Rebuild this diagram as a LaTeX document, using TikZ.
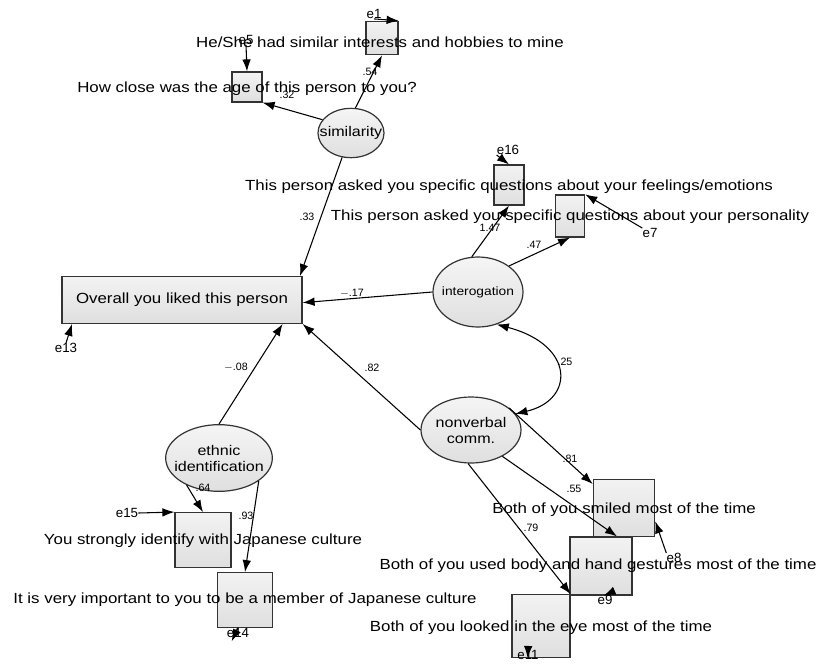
\documentclass[tikz,border=0pt]{standalone}
\usepackage{fontspec}
\setmainfont{Liberation Sans}
\newfontfamily\itemfont[FakeStretch=1.15]{Liberation Sans}
\usetikzlibrary{arrows.meta,shapes.geometric}
\begin{document}
\begin{tikzpicture}[x=0.75pt,y=-0.75pt,
  every node/.style={font=\fontsize{10pt}{11pt}\selectfont},
  obs/.style={draw=black!80,line width=0.9pt,top color=gray!10,bottom color=gray!25,inner sep=0pt},
  lat/.style={ellipse,draw=black!80,line width=0.9pt,top color=gray!8,bottom color=gray!25,inner xsep=-8pt,inner ysep=-4pt,align=center,font=\itemfont\fontsize{10.5pt}{12pt}\selectfont},
  path/.style={line width=0.8pt,-{Latex[length=9pt,width=6.5pt]}},
  cov/.style={line width=0.8pt,{Latex[length=9pt,width=6.5pt]}-{Latex[length=9pt,width=6.5pt]}},
  coef/.style={font=\fontsize{8pt}{9pt}\selectfont,inner sep=0pt},
  err/.style={font=\fontsize{10pt}{11pt}\selectfont,inner sep=0pt},
  txt/.style={inner sep=0pt,font=\itemfont\fontsize{11pt}{12pt}\selectfont}]
\useasboundingbox (0,0) rectangle (817,664);
\fill[white] (0,0) rectangle (817,664);
% observed boxes
\node[obs,minimum width=22.5pt,minimum height=22.5pt] (age) at (247,87) {};
\node[obs,minimum width=24pt,minimum height=25pt] (int) at (382,38) {};
\node[obs,minimum width=180pt,minimum height=35pt,font=\itemfont\fontsize{11pt}{12pt}\selectfont] (over) at (182,300) {Overall you liked this person};
\node[obs,minimum width=22.5pt,minimum height=30pt] (feel) at (509,185) {};
\node[obs,minimum width=22pt,minimum height=31.5pt] (pers) at (570,216) {};
\node[obs,minimum width=42pt,minimum height=41pt] (ident) at (203,540) {};
\node[obs,minimum width=41pt,minimum height=41pt] (memb) at (245,600) {};
\node[obs,minimum width=46pt,minimum height=43pt] (smile) at (624,508) {};
\node[obs,minimum width=46.5pt,minimum height=43.5pt] (gest) at (601,566) {};
\node[obs,minimum width=43.5pt,minimum height=47pt] (eye) at (541,626) {};
% latent
\node[lat,minimum width=49.5pt,minimum height=37pt] (sim) at (351,133) {similarity};
\node[lat,minimum width=67.5pt,minimum height=52.5pt,font=\itemfont\fontsize{9pt}{11pt}\selectfont] (inter) at (478,292) {interogation};
\node[lat,minimum width=75pt,minimum height=49.5pt] (nonv) at (471,430) {nonverbal\\comm.};
\node[lat,minimum width=80pt,minimum height=50pt] (eth) at (219,458) {ethnic\\identification};
% error labels
\node[err] (e5) at (246,40) {e5};
\node[err] (e1) at (374,14) {e1};
\node[err] (e13) at (66,348) {e13};
\node[err] (e16) at (508,150) {e16};
\node[err] (e7) at (650,233) {e7};
\node[err] (e15) at (127,513) {e15};
\node[err] (e14) at (238,633) {e14};
\node[err] (e8) at (674,558) {e8};
\node[err] (e9) at (605,600) {e9};
\node[err] (e11) at (528,655) {e11};
% error arrows
\draw[path] (e5.south) -- (age.north);
\draw[path] (e1.south) -- (int.north east);
\draw[path] (e13.north) -- ([xshift=8pt]over.south west);
\draw[path] (e16.south west) -- (feel.north);
\draw[path] (e7.north west) -- (pers.north east);
\draw[path] (e15.east) -- (ident.north west);
\draw[path] (e14.north) -- ([xshift=-10pt,yshift=-10pt]memb.south);
\draw[path] (e8.north west) -- ([yshift=-10pt]smile.east);
\draw[path] (e9.north) -- ([xshift=2pt]gest.south);
\draw[path] (e11.north) -- ([xshift=-10pt]eye.south);
% structural paths
\draw[path] (sim.155) -- (age.south east);
\draw[path] (sim.80) -- (int.south);
\draw[path] (sim.250) -- ([xshift=-2pt]over.north east);
\draw[path] (inter.west) -- ([yshift=-2pt]over.east);
\draw[path] (inter.100) -- (feel.south);
\draw[path] (inter.40) -- (pers.south);
\draw[path] (nonv.west) -- (over.south east);
\draw[path] (eth.north) -- ([xshift=-15pt]over.south east);
\draw[path] (eth.220) -- (ident.north);
\draw[path] (eth.330) -- (memb.north);
\draw[path] (nonv.30) -- ([yshift=-4pt]smile.north west);
\draw[path] (nonv.320) -- ([xshift=12pt]gest.north);
\draw[path] (nonv.265) -- (eye.north east);
\draw[cov] (inter.300) .. controls (575,345) and (575,400) .. (nonv.20);
% coefficients
\node[coef] (c54) at (370,72) {.54};
\node[coef] (c32) at (287,95) {.32};
\node[coef] (c33) at (307,217) {.33};
\node[coef] (c17) at (352,293) {$-$.17};
\node[coef] (c147) at (490,228) {1.47};
\node[coef] (c47) at (534,245) {.47};
\node[coef] (c25) at (565,362) {.25};
\node[coef] (c82) at (372,368) {.82};
\node[coef] (c08) at (236,367) {$-$.08};
\node[coef] (c64) at (203,488) {.64};
\node[coef] (c93) at (246,516) {.93};
\node[coef] (c81) at (570,459) {.81};
\node[coef] (c55) at (574,489) {.55};
\node[coef] (c79) at (531,528) {.79};
% item texts
\node[txt] (t1) at (380,42) {He/She had similar interests and hobbies to mine};
\node[txt] (t2) at (247,89) {How close was the age of this person to you?};
\node[txt] (t3) at (509,187) {This person asked you specific questions about your feelings/emotions};
\node[txt] (t4) at (570,217) {This person asked you specific questions about your personality};
\node[txt] (t5) at (203,541) {You strongly identify with Japanese culture};
\node[txt] (t6) at (245,600) {It is very important to you to be a member of Japanese culture};
\node[txt] (t7) at (624,510) {Both of you smiled most of the time};
\node[txt] (t8) at (598,566) {Both of you used body and hand gestures most of the time};
\node[txt] (t9) at (541,628) {Both of you looked in the eye most of the time};
\end{tikzpicture}
\end{document}
